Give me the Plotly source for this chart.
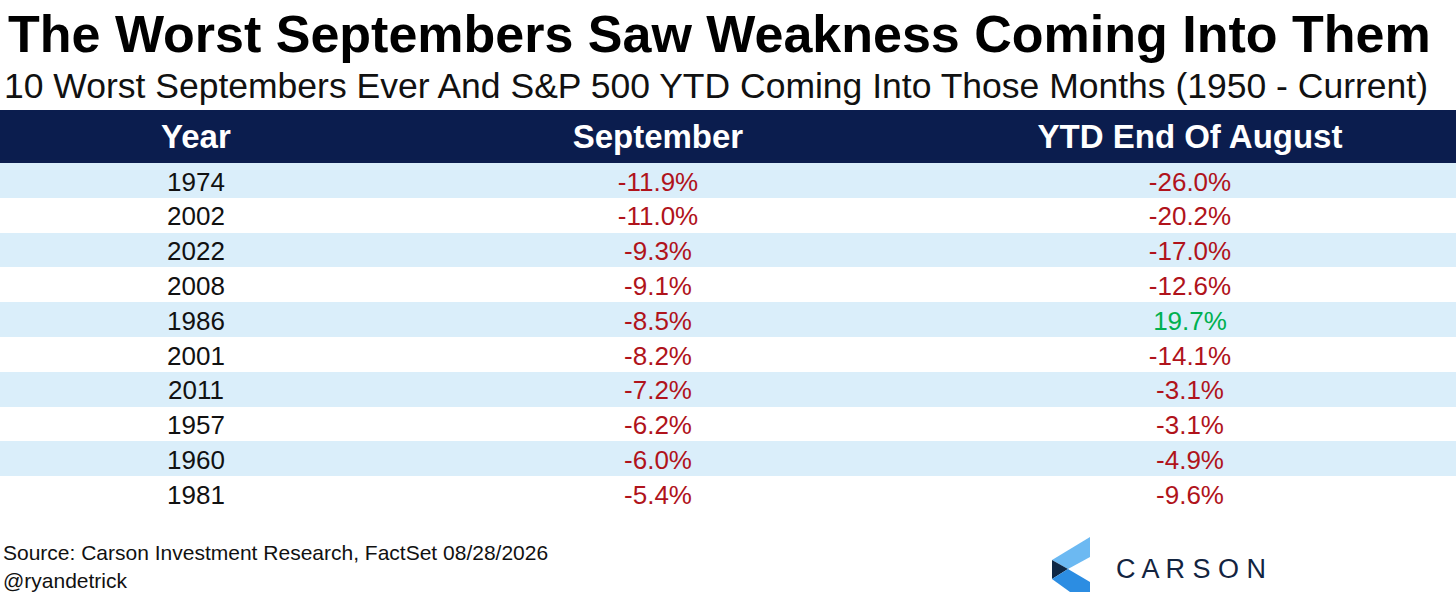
import plotly.graph_objects as go

years = ["1974","2002","2022","2008","1986","2001","2011","1957","1960","1981"]
september = [-11.9,-11.0,-9.3,-9.1,-8.5,-8.2,-7.2,-6.2,-6.0,-5.4]
ytd_aug = [-26.0,-20.2,-17.0,-12.6,19.7,-14.1,-3.1,-3.1,-4.9,-9.6]
headers = ["Year","September","YTD End Of August"]

W, H = 1456, 592
RED, GREEN = "#B0131B", "#00B050"
def col(v): return RED if v < 0 else GREEN
fills = ["#DAEEFA" if i % 2 == 0 else "#FFFFFF" for i in range(len(years))]

fig = go.Figure(go.Table(
    columnwidth=[392, 532, 532],
    domain=dict(x=[0, 1], y=[(H-530)/H, (H-110)/H]),
    header=dict(values=[f"<b>{h}</b>" for h in headers], fill_color="#0B1D4E",
                line=dict(width=0, color="#0B1D4E"),
                font=dict(family="Arial", size=33, color="white"), height=42, align="center"),
    cells=dict(values=[years, [f"{v:.1f}%" for v in september], [f"{v:.1f}%" for v in ytd_aug]],
               fill_color=[fills]*3, line=dict(width=0, color="white"), height=34.8, align="center",
               font=dict(family="Arial", size=26,
                         color=[["#111111"]*len(years), [col(v) for v in september], [col(v) for v in ytd_aug]])),
))

def px(x, y): return x/W, 1-y/H
ann = [
    dict(text="<b>The Worst Septembers Saw Weakness Coming Into Them</b>", x=6, y=34, size=52, color="#000000"),
    dict(text="10 Worst Septembers Ever And S&P 500 YTD Coming Into Those Months (1950 - Current)", x=2, y=86, size=35.5, color="#111111"),
    dict(text="Source: Carson Investment Research, FactSet 08/28/2026", x=1, y=552, size=21, color="#111111"),
    dict(text="@ryandetrick", x=1, y=580, size=21, color="#111111"),
]
annotations = []
for a in ann:
    xx, yy = px(a["x"], a["y"])
    annotations.append(dict(text=a["text"], x=xx, y=yy, xref="paper", yref="paper", xanchor="left", yanchor="middle",
                            showarrow=False, font=dict(family="Arial", size=a["size"], color=a["color"])))
xx, yy = px(1114, 569)
annotations.append(dict(text="C A R S O N", x=xx, y=yy, xref="paper", yref="paper", xanchor="left", yanchor="middle",
                        showarrow=False, font=dict(family="Arial", size=27, color="#13243F")))

def poly(pts, color):
    p = "M " + " L ".join(f"{pts[i][0]/W},{1-pts[i][1]/H}" for i in range(len(pts))) + " Z"
    return dict(type="path", xref="paper", yref="paper", path=p, fillcolor=color, line=dict(width=0))
shapes = [
    poly([(1052,560),(1090,537),(1090,557),(1068,569)], "#6CB9F2"),
    poly([(1052,560),(1068,569),(1052,579)], "#0E2745"),
    poly([(1052,579),(1068,569),(1090,582),(1090,592),(1070,592)], "#2C8DE2"),
]

fig.update_layout(width=W, height=H, margin=dict(l=0, r=0, t=0, b=0), paper_bgcolor="white",
                  annotations=annotations, shapes=shapes)
fig.write_html("out.html", config={"displayModeBar": False},
               post_script="document.body.style.margin='0';document.body.style.overflow='hidden';")
